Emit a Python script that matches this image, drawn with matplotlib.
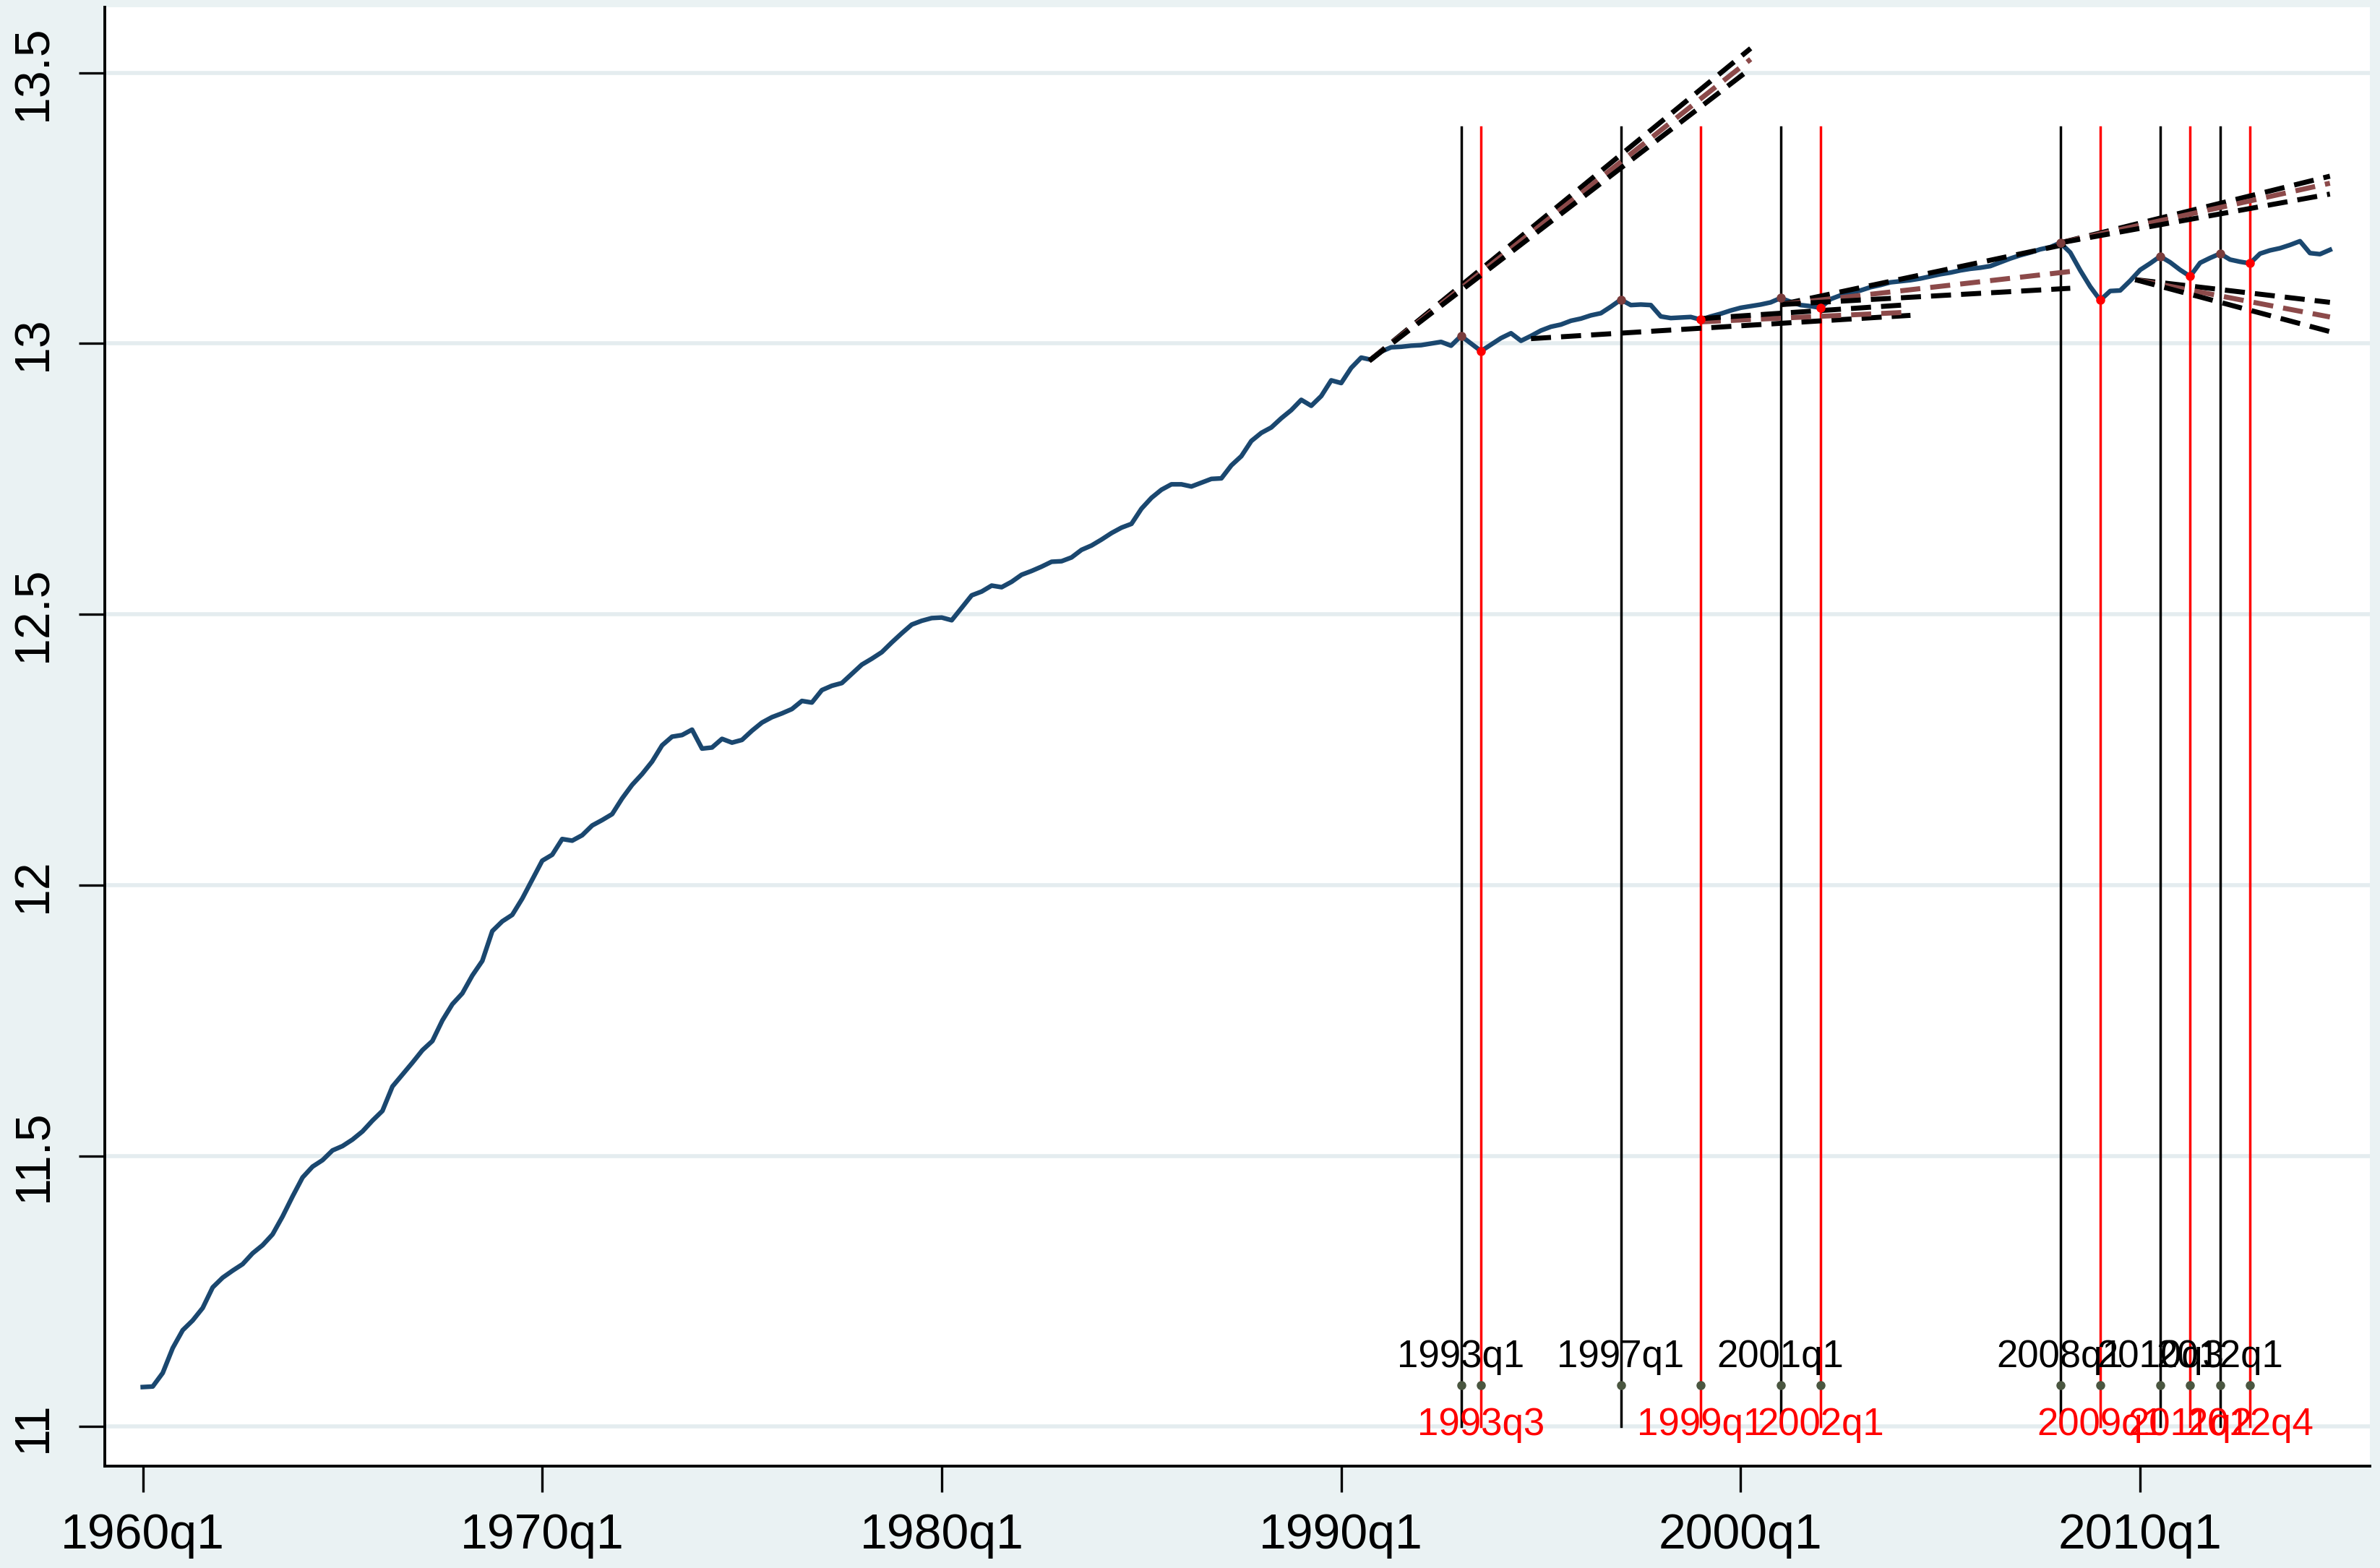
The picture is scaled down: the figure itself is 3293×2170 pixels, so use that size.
import matplotlib
matplotlib.use("Agg")
import matplotlib.pyplot as plt

# ===== data (quarters counted from 1960q1 = 0) =====
series = [
    11.073, 11.074, 11.099, 11.145, 11.178, 11.196, 11.219, 11.257, 11.275, 11.288,
    11.300, 11.320, 11.335, 11.355, 11.388, 11.425, 11.460, 11.480, 11.492, 11.510,
    11.518, 11.530, 11.545, 11.565, 11.583, 11.628, 11.650, 11.672, 11.695, 11.712,
    11.750, 11.780, 11.800, 11.833, 11.860, 11.915, 11.933, 11.945, 11.975, 12.010,
    12.045, 12.056, 12.085, 12.082, 12.092, 12.110, 12.120, 12.131, 12.160, 12.185,
    12.205, 12.228, 12.258, 12.274, 12.277, 12.287, 12.252, 12.254, 12.270, 12.263,
    12.268, 12.285, 12.300, 12.310, 12.317, 12.325, 12.340, 12.337, 12.360, 12.368,
    12.373, 12.390, 12.407, 12.418, 12.430, 12.448, 12.465, 12.481, 12.488, 12.493,
    12.494, 12.489, 12.512, 12.535, 12.542, 12.553, 12.550, 12.560, 12.573, 12.580,
    12.588, 12.597, 12.598, 12.605, 12.619, 12.627, 12.638, 12.650, 12.660, 12.667,
    12.695, 12.715, 12.730, 12.740, 12.740, 12.736, 12.743, 12.750, 12.751, 12.775,
    12.792, 12.820, 12.835, 12.845, 12.862, 12.877, 12.896, 12.885, 12.903, 12.932,
    12.927, 12.955, 12.974, 12.970, 12.985, 12.993, 12.994, 12.996, 12.997, 13.000,
    13.003, 12.996, 13.014, 13.000, 12.986, 12.998, 13.010, 13.019, 13.005, 13.014,
    13.024, 13.031, 13.035, 13.042, 13.046, 13.052, 13.056, 13.068, 13.081, 13.071,
    13.072, 13.071, 13.050, 13.047, 13.048, 13.049, 13.044, 13.050, 13.055, 13.061,
    13.066, 13.069, 13.072, 13.076, 13.084, 13.077, 13.071, 13.069, 13.066, 13.082,
    13.089, 13.094, 13.098, 13.104, 13.108, 13.113, 13.115, 13.117, 13.120, 13.124,
    13.128, 13.131, 13.135, 13.138, 13.140, 13.143, 13.150, 13.157, 13.163, 13.168,
    13.174, 13.178, 13.186, 13.168, 13.135, 13.105, 13.080, 13.097, 13.098, 13.116,
    13.136, 13.148, 13.161, 13.150, 13.136, 13.124, 13.149, 13.158, 13.166, 13.155,
    13.151, 13.148, 13.166, 13.172, 13.176, 13.182, 13.189, 13.167, 13.165, 13.173,
]
quarters = list(range(len(series)))

peak_q = [132, 148, 164, 192, 202, 208]
peak_lab = ["1993q1", "1997q1", "2001q1", "2008q1", "2010q3", "2012q1"]
trough_q = [134, 156, 168, 196, 205, 211]
trough_lab = ["1993q3", "1999q1", "2002q1", "2009q1", "2011q2", "2012q4"]

# dashed trend / forecast lines: (q start, value start, q end, value end, kind)
fc_q0 = [122.8, 122.8, 122.8, 139.0, 156.0, 156.0, 164.0, 164.0, 164.0, 192.0, 192.0, 192.0, 199.5, 199.5, 199.5]
fc_v0 = [12.968, 12.968, 12.968, 13.009, 13.040, 13.046, 13.072, 13.072, 13.072, 13.186, 13.186, 13.186, 13.118, 13.118, 13.118]
fc_q1 = [161.0, 161.0, 160.8, 177.0, 177.0, 177.0, 193.0, 193.0, 193.0, 219.0, 219.0, 219.0, 219.0, 219.0, 219.0]
fc_v1 = [13.545, 13.525, 13.505, 13.052, 13.058, 13.072, 13.185, 13.133, 13.102, 13.309, 13.296, 13.276, 13.076, 13.049, 13.022]
fc_kind = ["k", "b", "k", "k", "b", "k", "k", "b", "k", "k", "b", "k", "k", "b", "k"]

xtick_q = [0, 40, 80, 120, 160, 200]
xtick_lab = ["1960q1", "1970q1", "1980q1", "1990q1", "2000q1", "2010q1"]
ytick_v = [11, 11.5, 12, 12.5, 13, 13.5]
ytick_lab = ["11", "11.5", "12", "12.5", "13", "13.5"]

# ===== styling =====
plt.rcParams["font.family"] = ["Liberation Sans", "DejaVu Sans"]
NAVY, RED, BROWN, BG, GRID = "#1a476f", "#ff0000", "#8c4a4a", "#eaf2f3", "#e4ecef"

fig = plt.figure(figsize=(32.93, 21.70), dpi=100, facecolor=BG)
ax = fig.add_axes([145 / 3293, 1 - 2029 / 2170, (3279 - 145) / 3293, (2029 - 10) / 2170])
ax.set_facecolor("white")

for v in ytick_v:
    ax.axhline(v, color=GRID, lw=4, zorder=0)

# turning point vertical lines
for q in peak_q:
    ax.plot([q, q], [11.0, 13.4], color="black", lw=2.5, zorder=2)
for q in trough_q:
    ax.plot([q, q], [11.0, 13.4], color=RED, lw=2.5, zorder=2)

ax.plot(quarters, series, color=NAVY, lw=4.6, zorder=3)

for q0, v0, q1, v1, k in zip(fc_q0, fc_v0, fc_q1, fc_v1, fc_kind):
    ax.plot([q0, q1], [v0, v1], color="black" if k == "k" else BROWN,
            lw=5.0, dashes=(4.0, 2.0), zorder=4)

# markers on the series
ax.plot(peak_q, [series[q] for q in peak_q], "o", color="#7a3c3c", ms=8, zorder=5)
ax.plot(trough_q, [series[q] for q in trough_q], "o", color=RED, ms=8, zorder=5)

# labels at the bottom
ax.plot(peak_q + trough_q, [11.076] * 12, "o", color="#4a5640", ms=8, zorder=5)
for q, lab in zip(peak_q, peak_lab):
    ax.text(q, 11.128, lab, fontsize=38, color="black", ha="center", va="center", zorder=6)
for q, lab in zip(trough_q, trough_lab):
    ax.text(q, 11.003, lab, fontsize=38, color=RED, ha="center", va="center", zorder=6)

ax.set_xlim(-3.8, 223.0)
ax.set_ylim(10.927, 13.621)
ax.set_xticks(xtick_q)
ax.set_xticklabels(xtick_lab)
ax.set_yticks(ytick_v)
ax.set_yticklabels(ytick_lab, rotation=90, va="center")
ax.tick_params(axis="both", length=26, width=2.4, labelsize=49, direction="out")
ax.tick_params(axis="x", pad=20)
ax.tick_params(axis="y", pad=22)

for s in ["top", "right"]:
    ax.spines[s].set_visible(False)
for s in ["left", "bottom"]:
    ax.spines[s].set_linewidth(2.8)

fig.savefig("out.png", dpi=100, facecolor=BG)
